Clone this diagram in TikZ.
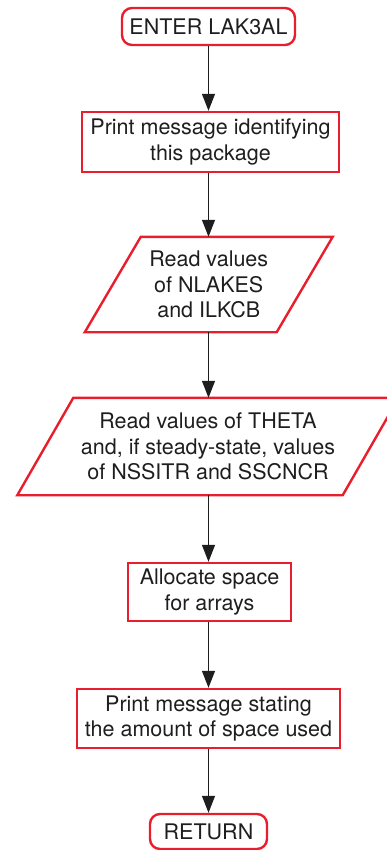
\documentclass[tikz,border=0pt]{standalone}
\usepackage{fontspec}
\setmainfont{TeX Gyre Heros}
\usetikzlibrary{arrows.meta}
\definecolor{boxred}{RGB}{232,30,44}
\definecolor{ink}{RGB}{30,30,30}
\tikzset{
  every node/.style={font=\fontsize{21.5}{25.5}\selectfont, text=ink, align=center, inner sep=0pt},
  procbox/.style={draw=boxred, line width=2.4pt, rectangle},
  termbox/.style={draw=boxred, line width=2.4pt, rectangle, rounded corners=10pt},
  iobox/.style={rectangle},
  redline/.style={draw=boxred, line width=2.4pt, line join=miter},
  flow/.style={draw=ink, line width=1.3pt, -{Triangle[length=17pt,width=13pt]}}
}
\begin{document}
\begin{tikzpicture}[x=1pt,y=-1pt]
\useasboundingbox (0,0) rectangle (386,850);
\node[termbox, minimum width=173pt, minimum height=37pt] (n1) at (208.5,26.5) {ENTER LAK3AL};
\node[procbox, minimum width=257pt, minimum height=60pt] (n2) at (210.5,142) {Print message identifying\\this package};
\node[iobox, minimum width=191.5pt, minimum height=95pt] (n3) at (208.75,284.5) {Read values\\of NLAKES\\and ILKCB};
\node[iobox, minimum width=325pt, minimum height=97pt] (n4) at (208,446.5) {Read values of THETA\\and, if steady-state, values\\of NSSITR and SSCNCR};
\node[procbox, minimum width=163pt, minimum height=58pt] (n5) at (209.5,592) {Allocate space\\for arrays};
\node[procbox, minimum width=263pt, minimum height=59pt] (n6) at (208.5,718.5) {Print message stating\\the amount of space used};
\node[termbox, minimum width=117pt, minimum height=35pt] (n7) at (208.5,831.5) {RETURN};
\foreach \n in {n3,n4}{
  \draw[redline] ([xshift=28pt]\n.north west) -- ([xshift=28pt]\n.north east) -- ([xshift=-28pt]\n.south east) -- ([xshift=-28pt]\n.south west) -- cycle;
}
\draw[flow] (n1.south) -- (n1.south |- n2.north);
\draw[flow] (n1.south |- n2.south) -- (n1.south |- n3.north);
\draw[flow] (n1.south |- n3.south) -- (n1.south |- n4.north);
\draw[flow] (n1.south |- n4.south) -- (n1.south |- n5.north);
\draw[flow] (n1.south |- n5.south) -- (n1.south |- n6.north);
\draw[flow] (n1.south |- n6.south) -- (n7.north);
\end{tikzpicture}
\end{document}
